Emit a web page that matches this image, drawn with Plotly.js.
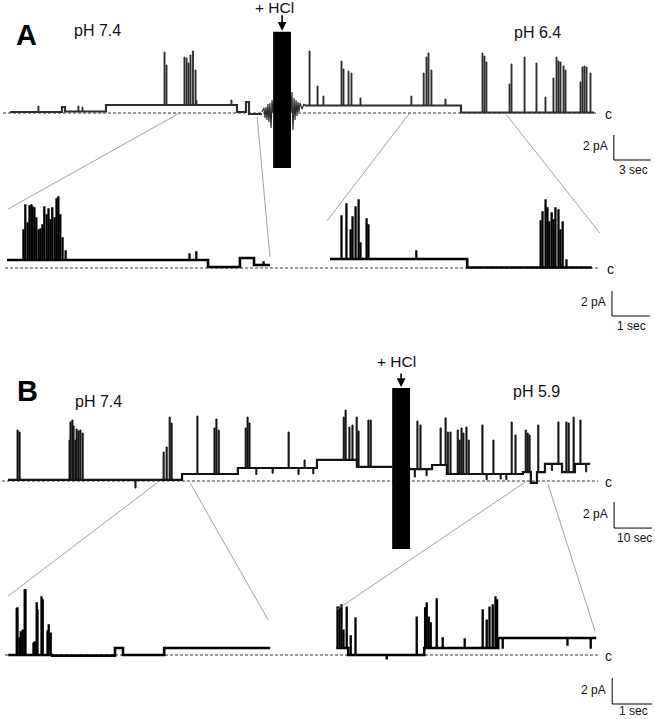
<!DOCTYPE html>
<html>
<head>
<meta charset="utf-8">
<script src="https://cdn.plot.ly/plotly-3.0.1.min.js"></script>
<style>
  html, body { margin: 0; padding: 0; background: #fff; }
  #chart { width: 655px; height: 719px; }
</style>
</head>
<body>
<div id="chart"></div>
<script>
// ---- A, top: pH 7.4 then HCl then pH 6.4 (time s, current pA) ----
// level segments: segment k runs from segT[k] to segT[k+1] at segI[k]
const aTopSegT = [0.41, 4.63, 4.88, 8.21, 18.86, 19.59, 19.84, 20.89, 24.39, 37.07, 47.89];
const aTopSegI = [0.08, 0.48, 0.12, 0.64, 0.08, 0.88, -0.08, null, 0.6, 0.04];
const aTopSpikeT = [2.68, 5.93, 6.26, 12.93, 13.09, 14.55, 14.72, 14.88, 15.04, 15.24, 15.45, 15.53, 18.37,
  24.72, 25.37, 25.85, 27.32, 27.48, 27.89, 28.13, 28.86, 33.0, 34.0, 34.23, 34.39, 34.63, 35.77,
  38.78, 38.94, 39.1, 40.98, 41.14, 42.2, 43.17, 43.9, 44.55, 44.8, 44.96, 45.12, 45.37, 45.53,
  46.75, 46.91, 47.07, 47.24, 47.56];
const aTopSpikeI = [0.56, 0.56, 0.48, 4.88, 3.84, 4.48, 4.4, 4.0, 4.64, 4.96, 3.44, 1.0, 1.04,
  4.96, 2.16, 1.36, 4.16, 3.52, 3.36, 3.2, 1.2, 1.36, 3.2, 4.48, 4.8, 3.44, 1.12,
  4.8, 4.56, 4.08, 2.32, 3.92, 4.48, 4.0, 1.28, 2.8, 4.48, 4.16, 4.08, 3.76, 3.44,
  2.48, 3.68, 3.76, 3.68, 3.2];
// perfusion artefact around the acid addition
const aTopArtT = [20.89, 21.06, 21.14, 21.22, 21.3, 21.38, 21.46, 21.54, 21.63, 21.71, 21.79, null,
  23.25, 23.33, 23.41, 23.5, 23.58, 23.66, 23.74, 23.82, 23.9, 23.98, 24.15, 24.31, 24.39];
const aTopArtI = [0.08, 0.4, -0.4, 0.48, -0.56, 0.72, -0.72, 0.8, -1.2, 1.04, 0, null,
  0, 1.68, -1.36, 1.2, -0.56, 1.04, -0.24, 0.88, 0.08, 0.8, 0.32, 0.72, 0.56];
const aAcidT = [21.8, 23.25];
const aAcidI = [-4.4, 6.5];

// ---- A, bottom: two expanded stretches ----
const aBotSegT = [0, 5.29, 6.13, 6.5, 6.92, 8.5, 12.11, 15.39];
const aBotSegI = [0.64, 0.08, 0.8, 0.24, null, 0.72, 0.04];
const aBotSpikeT = [0.42, 0.47, 0.53, 0.58, 0.63, 0.66, 0.71, 0.76, 0.82, 0.87, 0.92, 0.97, 1.03, 1.08,
  1.13, 1.18, 1.24, 1.29, 1.34, 1.39, 1.45, 1.53, 4.79, 4.97, 6.74,
  8.79, 8.92, 9.03, 9.08, 9.16, 9.24, 9.29, 9.45, 9.5, 10.76,
  14.03, 14.08, 14.16, 14.21, 14.26, 14.32, 14.37, 14.42, 14.5, 14.55, 14.61, 14.71];
const aBotSpikeI = [3.04, 5.04, 3.6, 4.96, 5.04, 4.88, 4.8, 4.0, 3.04, 3.12, 3.44, 4.88, 4.24, 4.72,
  3.84, 4.8, 4.0, 5.52, 5.68, 4.24, 2.4, 1.36, 1.12, 1.28, 0.48,
  4.16, 5.12, 3.04, 4.08, 4.88, 5.44, 2.0, 3.92, 3.44, 1.36,
  3.76, 4.48, 5.44, 4.8, 3.68, 4.4, 3.84, 4.8, 4.64, 3.04, 3.68, 0.64];

// ---- B, top: pH 7.4 then HCl then pH 5.9 ----
const bTopSegT = [0, 45.8, 60.5, 81.3, 91.8, 101.1, 105.8, 111.6, 115.5, 135.5, 137.6, 139.2, 141.3, 145.8, 149.2, 153.2];
const bTopSegI = [0.08, 0.54, 1.0, 1.62, 1.08, null, 0.92, 1.23, 0.54, 0.69, -0.15, 0.69, 1.31, 0.69, 1.31];
const bTopSpikeT = [2.37, 2.89, 16.05, 16.3, 16.8, 17.1, 17.6, 17.9, 18.4, 18.9,
  19.5, 33.4, 40.8, 41.6, 42.4, 42.9, 49.7, 54.2, 54.7, 55.3,
  62.4, 62.9, 63.4, 65.2, 69.5, 73.7, 76.3, 77.9, 80.2, 88.2,
  88.7, 89.7, 90.5, 91.6, 92.1, 94.7, 95.3, 106.9, 107.6, 108.4,
  110.0, 113.7, 115.0, 115.6, 116.3, 118.2, 118.7, 119.2, 119.7, 120.5,
  121.1, 124.7, 125.8, 127.6, 129.5, 131.0, 132.4, 133.4, 136.1, 136.6,
  137.1, 139.4, 143.0, 144.7, 146.8, 147.4, 148.7, 150.5, 152.0];
const bTopSpikeI = [3.92, 3.77, 3.15, 4.54, 4.69, 4.23, 3.15, 4.0, 3.85, 3.92,
  3.69, -0.54, 2.23, 2.62, 4.92, 4.46, 5.0, 4.08, 4.77, 3.92,
  4.08, 4.92, 4.46, 0.5, 0.6, 3.77, 0.5, 1.62, 0.55, 4.92,
  5.46, 4.15, 4.31, 4.92, 3.85, 4.69, 4.69, 0.3, 4.62, 4.31,
  0.4, 4.08, 4.85, 3.77, 3.77, 3.92, 3.15, 4.08, 3.69, 4.15,
  3.15, 4.31, 0.1, 3.15, 0.15, 0.1, 4.54, 3.54, 3.92, 3.69,
  3.54, 4.31, 0.8, 4.54, 4.54, 4.46, 4.92, 4.69, 0.7];
const bAcidT = [101.1, 105.8];
const bAcidI = [-5.23, 7.15];

// ---- B, bottom: two expanded stretches ----
const bBotSegT = [0.03, 1.13, 2.7, 2.9, 3.93, 6.58, 8.23, 8.53, 10.43, 12.28, 14.73];
const bBotSegI = [0, -0.05, 0.54, 0, 0.54, null, 0.54, 0, 0.54, 1.31];
const bBotSpikeT = [0.23, 0.25, 0.3, 0.33, 0.38, 0.43, 0.45, 0.65, 0.68, 0.73, 0.75, 0.85, 0.88, 1.0, 1.03, 1.08,
  8.25, 8.3, 8.35, 8.4, 8.48, 8.58, 8.7, 9.48, 10.23, 10.44, 10.48, 10.53, 10.58, 10.73, 10.88,
  11.43, 11.88, 11.98, 12.05, 12.13, 12.2, 12.24, 12.38, 14.0, 14.58];
const bBotSpikeI = [3.54, 3.62, 1.31, 1.77, 1.92, 5.0, 5.0, 0.92, 1.0, 4.0, 3.46, 4.46, 4.23, 1.85, 2.31, 1.69,
  3.69, 3.69, 3.85, 1.92, 3.69, 1.46, 2.85, -0.3, 2.92, 3.62, 4.0, 2.92, 2.46, 4.31, 1.31,
  1.23, 3.46, 2.69, 3.69, 3.85, 4.46, 4.23, 0.54, 0.77, 0.54];

// zoom links: time on the slow trace -> start/end of the expanded trace
const aLinkTopT = [14.2, 20.5, 32.9, 40.65];
const aLinkTopI = [0, -0.32, 0, 0];
const aLinkBotT = [0.03, 6.92, 8.42, 15.6];
const aLinkBotI = [4.72, 0.88, 3.76, 2.8];
const bLinkTopT = [39.2, 47.9, 136.1, 142.1];
const bLinkTopI = [-0.15, -0.15, -0.08, -0.23];
const bLinkBotT = [0.03, 6.53, 8.23, 14.7];
const bLinkBotI = [4.54, 2.69, 3.46, 1.85];

const W = 655, H = 719;
const FONT = 'Liberation Sans, Arial, Helvetica, sans-serif';

// step line through the level segments
function build_levels(segT, segI) {
  const x = [];
  const y = [];
  for (let k = 0; k < segI.length; k++) {
    if (segI[k] === null) { x.push(null); y.push(null); continue; }
    x.push(segT[k], segT[k + 1]);
    y.push(segI[k], segI[k]);
  }
  return { x, y };
}

// openings drawn as thin closed boxes standing on the local level
function build_spikes(segT, segI, spikeT, spikeI, w) {
  const x = [];
  const y = [];
  spikeT.forEach((t, j) => {
    let lvl = 0;
    for (let k = 0; k < segI.length; k++) {
      if (t >= segT[k] && t < segT[k + 1] && segI[k] !== null) lvl = segI[k];
    }
    x.push(t, t, t + w, t + w, t, null);
    y.push(lvl, spikeI[j], spikeI[j], lvl, lvl, null);
  });
  return { x, y };
}

// px origin / px per unit for each panel (all panels share the full page)
const panels = [
  { seg: [aTopSegT, aTopSegI], spk: [aTopSpikeT, aTopSpikeI], w: 0.08, x0: 5, sx: 12.3, y0: 113, sy: 12.5,
    color: '#2e2e2e', lw: 2.2, sw: 0.9, base: [-0.16, 48.2], bar: [49.5, -3.76, 3, '3 sec', -1] },
  { seg: [aBotSegT, aBotSegI], spk: [aBotSpikeT, aBotSpikeI], w: 0.025, x0: 7, sx: 38, y0: 268, sy: 12.5,
    color: '#000', lw: 2.6, sw: 1.3, base: [-0.05, 15.6], bar: [15.92, -3.84, 1, '1 sec', -1] },
  { seg: [bTopSegT, bTopSegI], spk: [bTopSpikeT, bTopSpikeI], w: 0.3, x0: 8, sx: 3.8, y0: 481, sy: 13,
    color: '#141414', lw: 2.2, sw: 0.9, base: [-1.6, 155.3], bar: [159.5, -3.62, 10, '10 sec', -1] },
  { seg: [bBotSegT, bBotSegI], spk: [bBotSpikeT, bBotSpikeI], w: 0.025, x0: 7, sx: 40, y0: 655, sy: 13,
    color: '#000', lw: 2.6, sw: 1.3, base: [-0.05, 14.78], bar: [15.13, -3.77, 1, '1 sec', 2] },
];

function to_paper(p, t, i) {
  return [(p.x0 + t * p.sx) / W, 1 - (p.y0 - i * p.sy) / H];
}

const data = [];
const shapes = [];
const annotations = [];
const layout = {
  width: W, height: H,
  margin: { l: 0, r: 0, t: 0, b: 0 },
  paper_bgcolor: '#fff',
  plot_bgcolor: 'rgba(0,0,0,0)',
  showlegend: false,
  hovermode: false,
  font: { family: FONT, color: '#111' },
};

panels.forEach((p, k) => {
  const sfx = k === 0 ? '' : String(k + 1);
  const xr = 'x' + sfx, yr = 'y' + sfx;
  layout['xaxis' + sfx] = { domain: [0, 1], range: [-p.x0 / p.sx, (W - p.x0) / p.sx],
    visible: false, fixedrange: true, anchor: yr };
  layout['yaxis' + sfx] = { domain: [0, 1], range: [(p.y0 - H) / p.sy, p.y0 / p.sy],
    visible: false, fixedrange: true, anchor: xr };

  // dashed closed level
  shapes.push({ type: 'line', xref: xr, yref: yr, x0: p.base[0], x1: p.base[1], y0: 0, y1: 0,
    line: { color: '#333', width: 1, dash: '3px,2px' }, layer: 'below' });
  annotations.push({ xref: xr, yref: yr, x: p.base[1], y: 0, text: 'c', showarrow: false,
    xanchor: 'left', xshift: 5, yshift: -1, font: { size: 14, color: '#111' } });

  const sp = build_spikes(p.seg[0], p.seg[1], p.spk[0], p.spk[1], p.w);
  data.push({ x: sp.x, y: sp.y, xaxis: xr, yaxis: yr, type: 'scatter', mode: 'lines',
    fill: 'toself', fillcolor: p.color, line: { color: p.color, width: p.sw }, hoverinfo: 'skip' });
  const lv = build_levels(p.seg[0], p.seg[1]);
  data.push({ x: lv.x, y: lv.y, xaxis: xr, yaxis: yr, type: 'scatter', mode: 'lines',
    line: { color: p.color, width: p.lw, shape: 'hv' }, hoverinfo: 'skip' });

  // scale bar: 2 pA vertical, time horizontal
  const [tc, ic, len, label, lshift] = p.bar;
  shapes.push({ type: 'path', xref: xr, yref: yr,
    path: `M${tc},${ic + 2} L${tc},${ic} L${tc + len},${ic}`, line: { color: '#000', width: 1 } });
  annotations.push({ xref: xr, yref: yr, x: tc, y: ic + 1.1, text: '2 pA', showarrow: false,
    xanchor: 'right', xshift: -4, font: { size: 12 } });
  annotations.push({ xref: xr, yref: yr, x: tc + len / 2, y: ic, text: label, showarrow: false,
    yanchor: 'top', yshift: lshift, xshift: 1, font: { size: 12 } });
});

// perfusion artefact in A
data.push({ x: aTopArtT, y: aTopArtI, xaxis: 'x', yaxis: 'y', type: 'scatter', mode: 'lines',
  line: { color: '#2e2e2e', width: 1.2 }, hoverinfo: 'skip' });

// acid additions
[[aAcidT, aAcidI, 'x', 'y', 24, -18, -8], [bAcidT, bAcidI, 'x3', 'y3', 27, -16, -5]].forEach(([ts, is, xr, yr, tshift, ay, xs]) => {
  shapes.push({ type: 'rect', xref: xr, yref: yr, x0: ts[0], x1: ts[1], y0: is[0], y1: is[1],
    fillcolor: '#000', line: { width: 0 } });
  const mid = (ts[0] + ts[1]) / 2;
  annotations.push({ xref: xr, yref: yr, x: mid, y: is[1], text: '', showarrow: true,
    ax: 0, ay: ay, arrowhead: 2, arrowsize: 1.1, arrowwidth: 1.6, arrowcolor: '#000', standoff: 1 });
  annotations.push({ xref: xr, yref: yr, x: mid, y: is[1], text: '+ HCl', showarrow: false,
    xshift: xs, yshift: tshift, font: { size: 15.5 } });
});

// pH labels
annotations.push(
  { xref: 'x', yref: 'y', x: 7.56, y: 6.64, text: 'pH 7.4', showarrow: false, font: { size: 16 } },
  { xref: 'x', yref: 'y', x: 43.3, y: 6.48, text: 'pH 6.4', showarrow: false, font: { size: 16 } },
  { xref: 'x3', yref: 'y3', x: 23.7, y: 6.08, text: 'pH 7.4', showarrow: false, font: { size: 16 } },
  { xref: 'x3', yref: 'y3', x: 139.2, y: 6.92, text: 'pH 5.9', showarrow: false, font: { size: 16 } },
);

// panel letters
annotations.push(
  { xref: 'paper', yref: 'paper', x: 14 / W, y: 1 - 17 / H, text: '<b>A</b>', showarrow: false, font: { size: 29, color: '#000' } },
  { xref: 'paper', yref: 'paper', x: 15 / W, y: 1 - 391 / H, text: '<b>B</b>', showarrow: false, font: { size: 29, color: '#000' } },
);

// gray zoom links between slow and expanded traces
function add_links(top, bot, topT, topI, botT, botI) {
  topT.forEach((t, j) => {
    const a = to_paper(top, t, topI[j]);
    const b = to_paper(bot, botT[j], botI[j]);
    shapes.push({ type: 'line', xref: 'paper', yref: 'paper', x0: a[0], y0: a[1], x1: b[0], y1: b[1],
      line: { color: '#8c8c8c', width: 0.8 } });
  });
}
add_links(panels[0], panels[1], aLinkTopT, aLinkTopI, aLinkBotT, aLinkBotI);
add_links(panels[2], panels[3], bLinkTopT, bLinkTopI, bLinkBotT, bLinkBotI);

layout.shapes = shapes;
layout.annotations = annotations;

Plotly.newPlot(document.getElementById('chart'), data, layout, { staticPlot: true, displayModeBar: false });
</script>
</body>
</html>
